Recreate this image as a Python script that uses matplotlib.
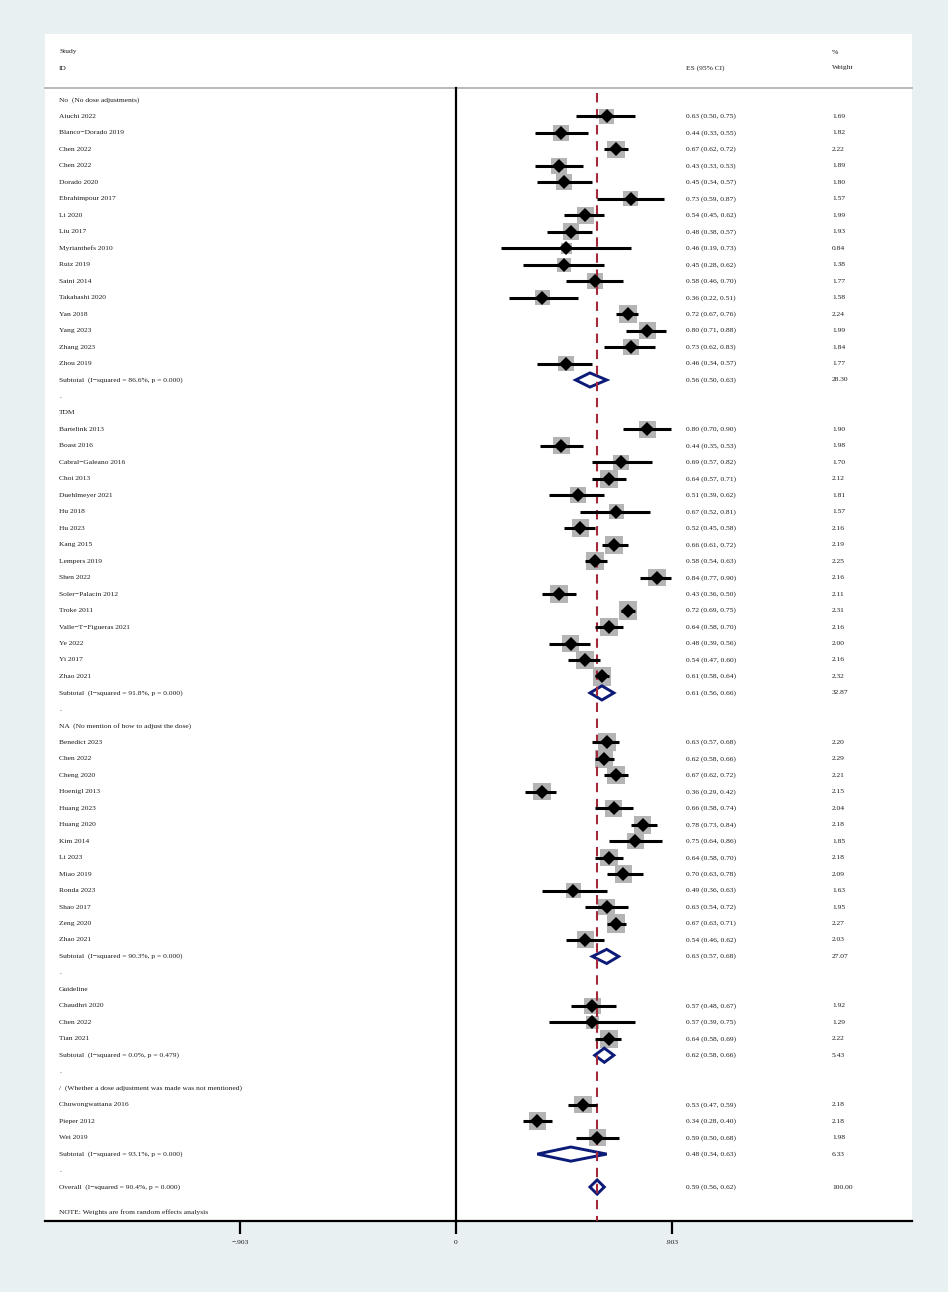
import matplotlib
matplotlib.use("Agg")
import matplotlib.pyplot as plt
import numpy as np

# ---------------- data ----------------
groups = [
    "No  (No dose adjustments)",
    "TDM",
    "NA  (No mention of how to adjust the dose)",
    "Guideline",
    "/  (Whether a dose adjustment was made was not mentioned)",
]

studies_no = ["Aiuchi 2022", "Blanco\u2212Dorado 2019", "Chen 2022", "Chen 2022", "Dorado 2020",
              "Ebrahimpour 2017", "Li 2020", "Liu 2017", "Myrianthefs 2010", "Ruiz 2019",
              "Saini 2014", "Takahashi 2020", "Yan 2018", "Yang 2023", "Zhang 2023", "Zhou 2019"]
es_no = [0.63, 0.44, 0.67, 0.43, 0.45, 0.73, 0.54, 0.48, 0.46, 0.45, 0.58, 0.36, 0.72, 0.80, 0.73, 0.46]
lo_no = [0.50, 0.33, 0.62, 0.33, 0.34, 0.59, 0.45, 0.38, 0.19, 0.28, 0.46, 0.22, 0.67, 0.71, 0.62, 0.34]
hi_no = [0.75, 0.55, 0.72, 0.53, 0.57, 0.87, 0.62, 0.57, 0.73, 0.62, 0.70, 0.51, 0.76, 0.88, 0.83, 0.57]
w_no = [1.69, 1.82, 2.22, 1.89, 1.80, 1.57, 1.99, 1.93, 0.84, 1.38, 1.77, 1.58, 2.24, 1.99, 1.84, 1.77]

studies_tdm = ["Bartelink 2013", "Boast 2016", "Cabral\u2212Galeano 2016", "Choi 2013", "Duehlmeyer 2021",
               "Hu 2018", "Hu 2023", "Kang 2015", "Lempers 2019", "Shen 2022", "Soler\u2212Palacin 2012",
               "Troke 2011", "Valle\u2212T\u2212Figueras 2021", "Ye 2022", "Yi 2017", "Zhao 2021"]
es_tdm = [0.80, 0.44, 0.69, 0.64, 0.51, 0.67, 0.52, 0.66, 0.58, 0.84, 0.43, 0.72, 0.64, 0.48, 0.54, 0.61]
lo_tdm = [0.70, 0.35, 0.57, 0.57, 0.39, 0.52, 0.45, 0.61, 0.54, 0.77, 0.36, 0.69, 0.58, 0.39, 0.47, 0.58]
hi_tdm = [0.90, 0.53, 0.82, 0.71, 0.62, 0.81, 0.58, 0.72, 0.63, 0.90, 0.50, 0.75, 0.70, 0.56, 0.60, 0.64]
w_tdm = [1.90, 1.98, 1.70, 2.12, 1.81, 1.57, 2.16, 2.19, 2.25, 2.16, 2.11, 2.31, 2.16, 2.00, 2.16, 2.32]

studies_na = ["Benedict 2023", "Chen 2022", "Cheng 2020", "Hoenigl 2013", "Huang 2023", "Huang 2020",
              "Kim 2014", "Li 2023", "Miao 2019", "Ronda 2023", "Shao 2017", "Zeng 2020", "Zhao 2021"]
es_na = [0.63, 0.62, 0.67, 0.36, 0.66, 0.78, 0.75, 0.64, 0.70, 0.49, 0.63, 0.67, 0.54]
lo_na = [0.57, 0.58, 0.62, 0.29, 0.58, 0.73, 0.64, 0.58, 0.63, 0.36, 0.54, 0.63, 0.46]
hi_na = [0.68, 0.66, 0.72, 0.42, 0.74, 0.84, 0.86, 0.70, 0.78, 0.63, 0.72, 0.71, 0.62]
w_na = [2.20, 2.29, 2.21, 2.15, 2.04, 2.18, 1.85, 2.18, 2.09, 1.63, 1.95, 2.27, 2.03]

studies_gl = ["Chaudhri 2020", "Chen 2022", "Tian 2021"]
es_gl = [0.57, 0.57, 0.64]
lo_gl = [0.48, 0.39, 0.58]
hi_gl = [0.67, 0.75, 0.69]
w_gl = [1.92, 1.29, 2.22]

studies_nm = ["Chuwongwattana 2016", "Pieper 2012", "Wei 2019"]
es_nm = [0.53, 0.34, 0.59]
lo_nm = [0.47, 0.28, 0.50]
hi_nm = [0.59, 0.40, 0.68]
w_nm = [2.18, 2.18, 1.98]

sub_label = ["Subtotal  (I\u2212squared = 86.6%, p = 0.000)",
             "Subtotal  (I\u2212squared = 91.8%, p = 0.000)",
             "Subtotal  (I\u2212squared = 90.3%, p = 0.000)",
             "Subtotal  (I\u2212squared = 0.0%, p = 0.479)",
             "Subtotal  (I\u2212squared = 93.1%, p = 0.000)"]
sub_es = [0.56, 0.61, 0.63, 0.62, 0.48]
sub_lo = [0.50, 0.56, 0.57, 0.58, 0.34]
sub_hi = [0.63, 0.66, 0.68, 0.66, 0.63]
sub_w = [28.30, 32.87, 27.07, 5.43, 6.33]

overall_label = "Overall  (I\u2212squared = 90.4%, p = 0.000)"
overall_es, overall_lo, overall_hi, overall_w = 0.59, 0.56, 0.62, 100.00

xticks = [-0.903, 0, 0.903]
xticklabels = ["\u2212.903", "0", ".903"]

# ---------------- layout ----------------
W, H = 948, 1292
fig = plt.figure(figsize=(W / 100, H / 100), dpi=100, facecolor="#e8f0f2")

px0, px1 = 45, 912      # panel x extents (pixels)
py0, py1 = 34, 1221     # panel y extents (pixels, from top)
zero_px, unit_px = 456, 239.2
row0_px, row_px = 100, 16.47

ax = fig.add_axes([px0 / W, 1 - py1 / H, (px1 - px0) / W, (py1 - py0) / H])
ax.set_facecolor("white")
ax.set_xlim((px0 - zero_px) / unit_px, (px1 - zero_px) / unit_px)
ax.set_ylim((py1 - row0_px) / row_px, (py0 - row0_px) / row_px)


def xv(px):
    return (px - zero_px) / unit_px


def rv(py):
    return (py - row0_px) / row_px


FONT = "Liberation Serif"
FS = 5.4
TC = "#1a1a1a"
navy = "#0c1a78"
red = "#a3283a"

x_lab, x_es, x_w = xv(59), xv(686), xv(832)


def put(r, lab, es=None, w=None):
    ax.text(x_lab, r, lab, fontsize=FS, family=FONT, color=TC, va="center", ha="left")
    if es is not None:
        ax.text(x_es, r, es, fontsize=FS, family=FONT, color=TC, va="center", ha="left")
    if w is not None:
        ax.text(x_w, r, w, fontsize=FS, family=FONT, color=TC, va="center", ha="left")


# header
ax.text(x_lab, rv(52), "Study", fontsize=FS, family=FONT, color=TC, va="center")
ax.text(x_lab, rv(68), "ID", fontsize=FS, family=FONT, color=TC, va="center")
ax.text(x_es, rv(68), "ES (95% CI)", fontsize=FS, family=FONT, color=TC, va="center")
ax.text(x_w, rv(52), "%", fontsize=FS, family=FONT, color=TC, va="center")
ax.text(x_w, rv(68), "Weight", fontsize=FS, family=FONT, color=TC, va="center")
ax.plot(ax.get_xlim(), [rv(88), rv(88)], color="#b4b4b4", lw=1.3, zorder=2, clip_on=False)

all_groups = [
    (studies_no, es_no, lo_no, hi_no, w_no),
    (studies_tdm, es_tdm, lo_tdm, hi_tdm, w_tdm),
    (studies_na, es_na, lo_na, hi_na, w_na),
    (studies_gl, es_gl, lo_gl, hi_gl, w_gl),
    (studies_nm, es_nm, lo_nm, hi_nm, w_nm),
]


def diamond(r, es, lo, hi):
    h = 0.43
    ax.fill([lo, es, hi, es], [r, r - h, r, r + h], facecolor="white",
            edgecolor=navy, lw=2.1, zorder=4, joinstyle="miter")


r = 0
for gi, (names, es, lo, hi, w) in enumerate(all_groups):
    put(r, groups[gi])
    r += 1
    rows = np.arange(r, r + len(names))
    for k, nm in enumerate(names):
        put(rows[k], nm, f"{es[k]:.2f} ({lo[k]:.2f}, {hi[k]:.2f})", f"{w[k]:.2f}")
    ax.scatter(es, rows, marker="s", s=np.array(w) * 74, color="#b4b4b4", lw=0, zorder=3)
    ax.hlines(rows, lo, hi, color="black", lw=2.2, zorder=6)
    ax.plot(es, rows, "D", color="black", ms=6.8, mew=0, zorder=7)
    r += len(names)
    put(r, sub_label[gi], f"{sub_es[gi]:.2f} ({sub_lo[gi]:.2f}, {sub_hi[gi]:.2f})", f"{sub_w[gi]:.2f}")
    diamond(r, sub_es[gi], sub_lo[gi], sub_hi[gi])
    r += 1
    put(r, ".")
    r += 1

put(r, overall_label, f"{overall_es:.2f} ({overall_lo:.2f}, {overall_hi:.2f})", f"{overall_w:.2f}")
diamond(r, overall_es, overall_lo, overall_hi)
ax.text(x_lab, rv(1212), "NOTE: Weights are from random effects analysis",
        fontsize=FS, family=FONT, color=TC, va="center")

# reference lines
ax.plot([0, 0], [rv(88), ax.get_ylim()[0]], color="black", lw=1.6, zorder=5)
ax.plot([overall_es, overall_es], [rv(93), ax.get_ylim()[0]], color=red, lw=1.5,
        dashes=(4.5, 3.2), zorder=5)

# axis
for s in ["top", "left", "right"]:
    ax.spines[s].set_visible(False)
ax.spines["bottom"].set_linewidth(1.6)
ax.set_yticks([])
ax.set_xticks(xticks)
ax.set_xticklabels(xticklabels, family=FONT, fontsize=FS, color=TC)
ax.tick_params(axis="x", direction="out", length=9, width=1.6, pad=5)

fig.savefig("out.png", dpi=100, facecolor=fig.get_facecolor())
